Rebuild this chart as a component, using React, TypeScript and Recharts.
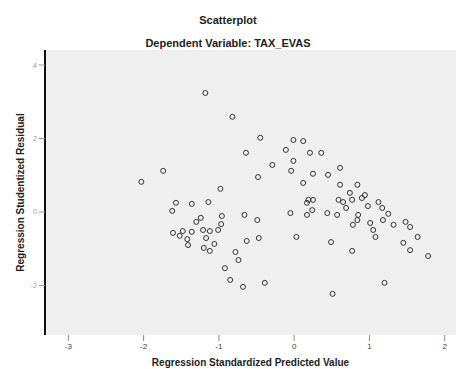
import React from "react";
import { ScatterChart, Scatter, XAxis, YAxis, CartesianGrid } from "recharts";

// standardized predicted value (x) / studentized residual (y)
const predicted = [
  -2.03, -1.74, -1.18, -0.82, -1.57, -1.36, -1.14, -1.62, -1.24, -0.96, -0.66, -0.49,
  -1.61, -1.48, -1.36, -1.21, -1.12, -1.01, -0.97, -1.42, -1.41, -1.17, -1.2, -1.12,
  -0.63, -0.47, -0.78, -0.74, -0.92, -0.85, -0.68, -0.39, -0.98, -1.3, -1.52, -1.06,
  -0.45, -0.64, -0.29, -0.48, -0.01, 0.12, -0.11, 0.21, 0.36, -0.01, -0.04, 0.25,
  0.45, 0.61, 0.12, 0.61, 0.84, 0.74, 0.19, 0.25, 0.59, 0.65, 0.77, 0.94,
  0.98, 1.12, 1.17, 1.25, -0.05, 0.24, 0.17, 0.44, 0.57, 0.85, 0.84, 0.78,
  1.01, 1.05, 1.08, 1.32, 1.48, 1.54, 1.64, 1.45, 1.54, 1.78, 0.03, 0.49,
  0.77, 1.2, 0.51, 0.17, 1.18, 0.69, 0.9,
];
const residual = [
  0.82, 1.12, 3.24, 2.59, 0.25, 0.22, 0.27, 0.03, -0.16, -0.11, -0.08, -0.22,
  -0.57, -0.52, -0.54, -0.49, -0.52, -0.49, -0.33, -0.74, -0.9, -0.71, -0.98, -1.06,
  -0.79, -0.71, -1.09, -1.31, -1.53, -1.85, -2.04, -1.93, 0.63, -0.27, -0.65, -0.87,
  2.02, 1.61, 1.28, 0.95, 1.96, 1.93, 1.69, 1.61, 1.61, 1.39, 1.12, 1.04,
  1.01, 1.2, 0.79, 0.74, 0.74, 0.52, 0.33, 0.33, 0.33, 0.27, 0.33, 0.46,
  0.16, 0.27, 0.11, -0.05, -0.03, 0.05, -0.08, -0.03, -0.08, -0.08, -0.22, -0.35,
  -0.3, -0.49, -0.68, -0.35, -0.27, -0.41, -0.68, -0.84, -1.04, -1.2, -0.68, -0.82,
  -1.06, -1.93, -2.23, 0.25, -0.22, 0.11, 0.38,
];
const xTicks = [-3, -2, -1, 0, 1, 2];
const yTicks = [-2, 0, 2, 4];

const points = predicted.map((x, i) => ({ x, y: residual[i] }));

const font = "'Liberation Sans', Arial, sans-serif";

export default function App() {
  return (
    <div style={{ position: "absolute", left: 0, top: 0, width: 456, height: 369, background: "#fff", fontFamily: font }}>
      <div style={{ position: "absolute", top: 14, width: 456, textAlign: "center", fontSize: 11, fontWeight: "bold", color: "#222" }}>
        Scatterplot
      </div>
      <div style={{ position: "absolute", top: 37, width: 456, textAlign: "center", fontSize: 11, fontWeight: "bold", color: "#222" }}>
        Dependent Variable: TAX_EVAS
      </div>
      <ScatterChart width={456} height={369} margin={{ top: 50, right: 0, bottom: 0, left: 0 }}>
        <CartesianGrid horizontal={false} vertical={false} fill="#efefef" />
        <XAxis
          type="number"
          dataKey="x"
          domain={[-3.31, 2.15]}
          ticks={xTicks}
          height={34}
          axisLine={false}
          tickLine={{ stroke: "#888" }}
          tickSize={6}
          tick={{ fontSize: 8, fill: "#444", fontFamily: font }}
          label={{ value: "Regression Standardized Predicted Value", position: "insideBottom", offset: 3, fontSize: 10, fontWeight: "bold", fill: "#222", fontFamily: font }}
        />
        <YAxis
          type="number"
          dataKey="y"
          domain={[-3.35, 4.41]}
          ticks={yTicks}
          width={45}
          axisLine={{ stroke: "#111", strokeWidth: 2 }}
          tickLine={{ stroke: "#999" }}
          tickSize={6}
          tick={{ fontSize: 7, fill: "#999", fontFamily: font }}
          label={{ value: "Regression Studentized Residual", angle: -90, position: "insideLeft", offset: 20, style: { textAnchor: "middle" }, fontSize: 10, fontWeight: "bold", fill: "#222", fontFamily: font }}
        />
        <Scatter
          data={points}
          isAnimationActive={false}
          shape={(p: any) => <circle cx={p.cx} cy={p.cy} r={2.5} fill="none" stroke="#333" strokeWidth={1} />}
        />
      </ScatterChart>
    </div>
  );
}
